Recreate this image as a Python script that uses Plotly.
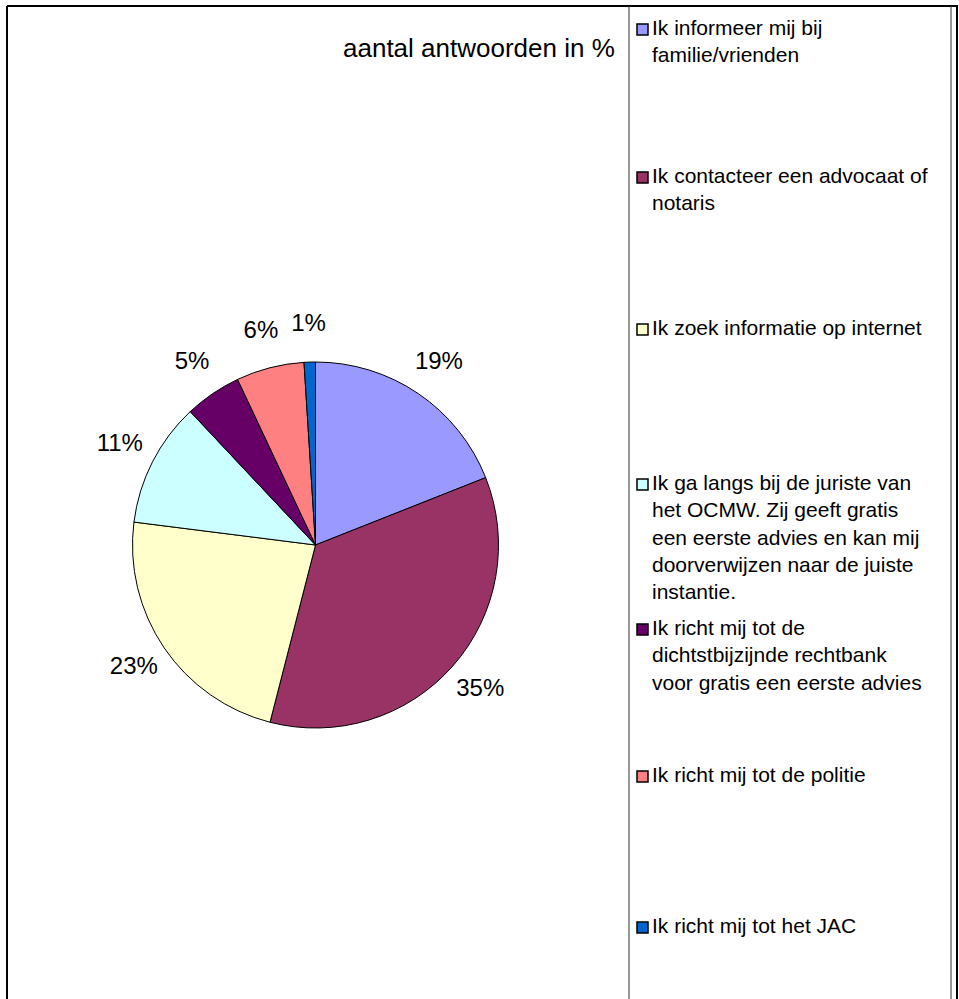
import numpy as np
import plotly.graph_objects as go

# ---- data ----
categories = [
    "Ik informeer mij bij<br>familie/vrienden",
    "Ik contacteer een advocaat of<br>notaris",
    "Ik zoek informatie op internet",
    "Ik ga langs bij de juriste van<br>het OCMW. Zij geeft gratis<br>een eerste advies en kan mij<br>doorverwijzen naar de juiste<br>instantie.",
    "Ik richt mij tot de<br>dichtstbijzijnde rechtbank<br>voor gratis een eerste advies",
    "Ik richt mij tot de politie",
    "Ik richt mij tot het JAC",
]
percentages = [19, 35, 23, 11, 5, 6, 1]
title_text = "aantal antwoorden in %"

# ---- styles / layout ----
colors = ["#9999FF", "#993366", "#FFFFCC", "#CCFFFF", "#660066", "#FF8080", "#0066CC"]
W, H = 959, 999
FONT = "Arial, Liberation Sans, sans-serif"
legend_baselines = [35, 183, 335, 490, 635, 782, 933]   # px from top
LEG_FS = 21
LABEL_R = 1.2      # label distance in pie radii
RMAX = 1.35        # radial range of the label overlay

def px(x):
    return x / W

def py(y):
    return 1 - y / H

cx, cy, R = 315.5, 545, 183

fig = go.Figure()
fig.add_trace(go.Pie(
    labels=categories,
    values=percentages,
    sort=False,
    direction="clockwise",
    rotation=0,
    marker=dict(colors=colors, line=dict(color="black", width=1)),
    textinfo="none",
    hovertemplate="%{label}: %{value}%<extra></extra>",
    showlegend=False,
    domain=dict(x=[px(cx - R), px(cx + R)], y=[py(cy + R), py(cy - R)]),
))

# percentage labels on a polar overlay aligned with the pie
vals = np.array(percentages, dtype=float)
mid_theta = 360.0 * (np.cumsum(vals) - vals / 2) / vals.sum()
fig.add_trace(go.Scatterpolar(
    r=[LABEL_R] * len(vals),
    theta=mid_theta,
    mode="text",
    text=[f"{v}%" for v in percentages],
    textposition="middle center",
    textfont=dict(family=FONT, size=24, color="black"),
    hoverinfo="skip",
    showlegend=False,
))

Rp = R * RMAX
shapes = []
# outer frame (open at bottom)
shapes.append(dict(type="line", xref="paper", yref="paper", x0=px(7), x1=px(7), y0=0, y1=py(6),
                   line=dict(color="black", width=2)))
shapes.append(dict(type="line", xref="paper", yref="paper", x0=px(7), x1=px(958), y0=py(6), y1=py(6),
                   line=dict(color="black", width=2)))
shapes.append(dict(type="line", xref="paper", yref="paper", x0=px(957), x1=px(957), y0=0, y1=py(6),
                   line=dict(color="black", width=2)))
# legend box
for xl in (629, 951):
    shapes.append(dict(type="line", xref="paper", yref="paper", x0=px(xl), x1=px(xl), y0=0, y1=py(6),
                       line=dict(color="#333333", width=1)))

annotations = [dict(
    text=title_text, xref="paper", yref="paper", x=px(617), y=py(31),
    xanchor="right", yanchor="top", showarrow=False,
    font=dict(family=FONT, size=26, color="black"),
)]

for cat, col, base in zip(categories, colors, legend_baselines):
    shapes.append(dict(type="rect", xref="paper", yref="paper",
                       x0=px(637), x1=px(648), y0=py(base), y1=py(base - 11),
                       fillcolor=col, line=dict(color="black", width=1.5)))
    annotations.append(dict(
        text=cat, xref="paper", yref="paper", x=px(650), y=py(base - 21),
        xanchor="left", yanchor="top", align="left", showarrow=False,
        font=dict(family=FONT, size=LEG_FS, color="black"),
    ))

fig.update_layout(
    width=W, height=H,
    margin=dict(l=0, r=0, t=0, b=0),
    paper_bgcolor="white",
    plot_bgcolor="white",
    shapes=shapes,
    annotations=annotations,
    polar=dict(
        domain=dict(x=[px(cx - Rp), px(cx + Rp)], y=[py(cy + Rp), py(cy - Rp)]),
        bgcolor="rgba(0,0,0,0)",
        radialaxis=dict(range=[0, RMAX], visible=False),
        angularaxis=dict(visible=False, rotation=90, direction="clockwise"),
    ),
)

fig.write_html(
    "out.html",
    config={"displayModeBar": False},
    post_script="document.body.style.margin='0';document.body.style.overflow='hidden';",
)
